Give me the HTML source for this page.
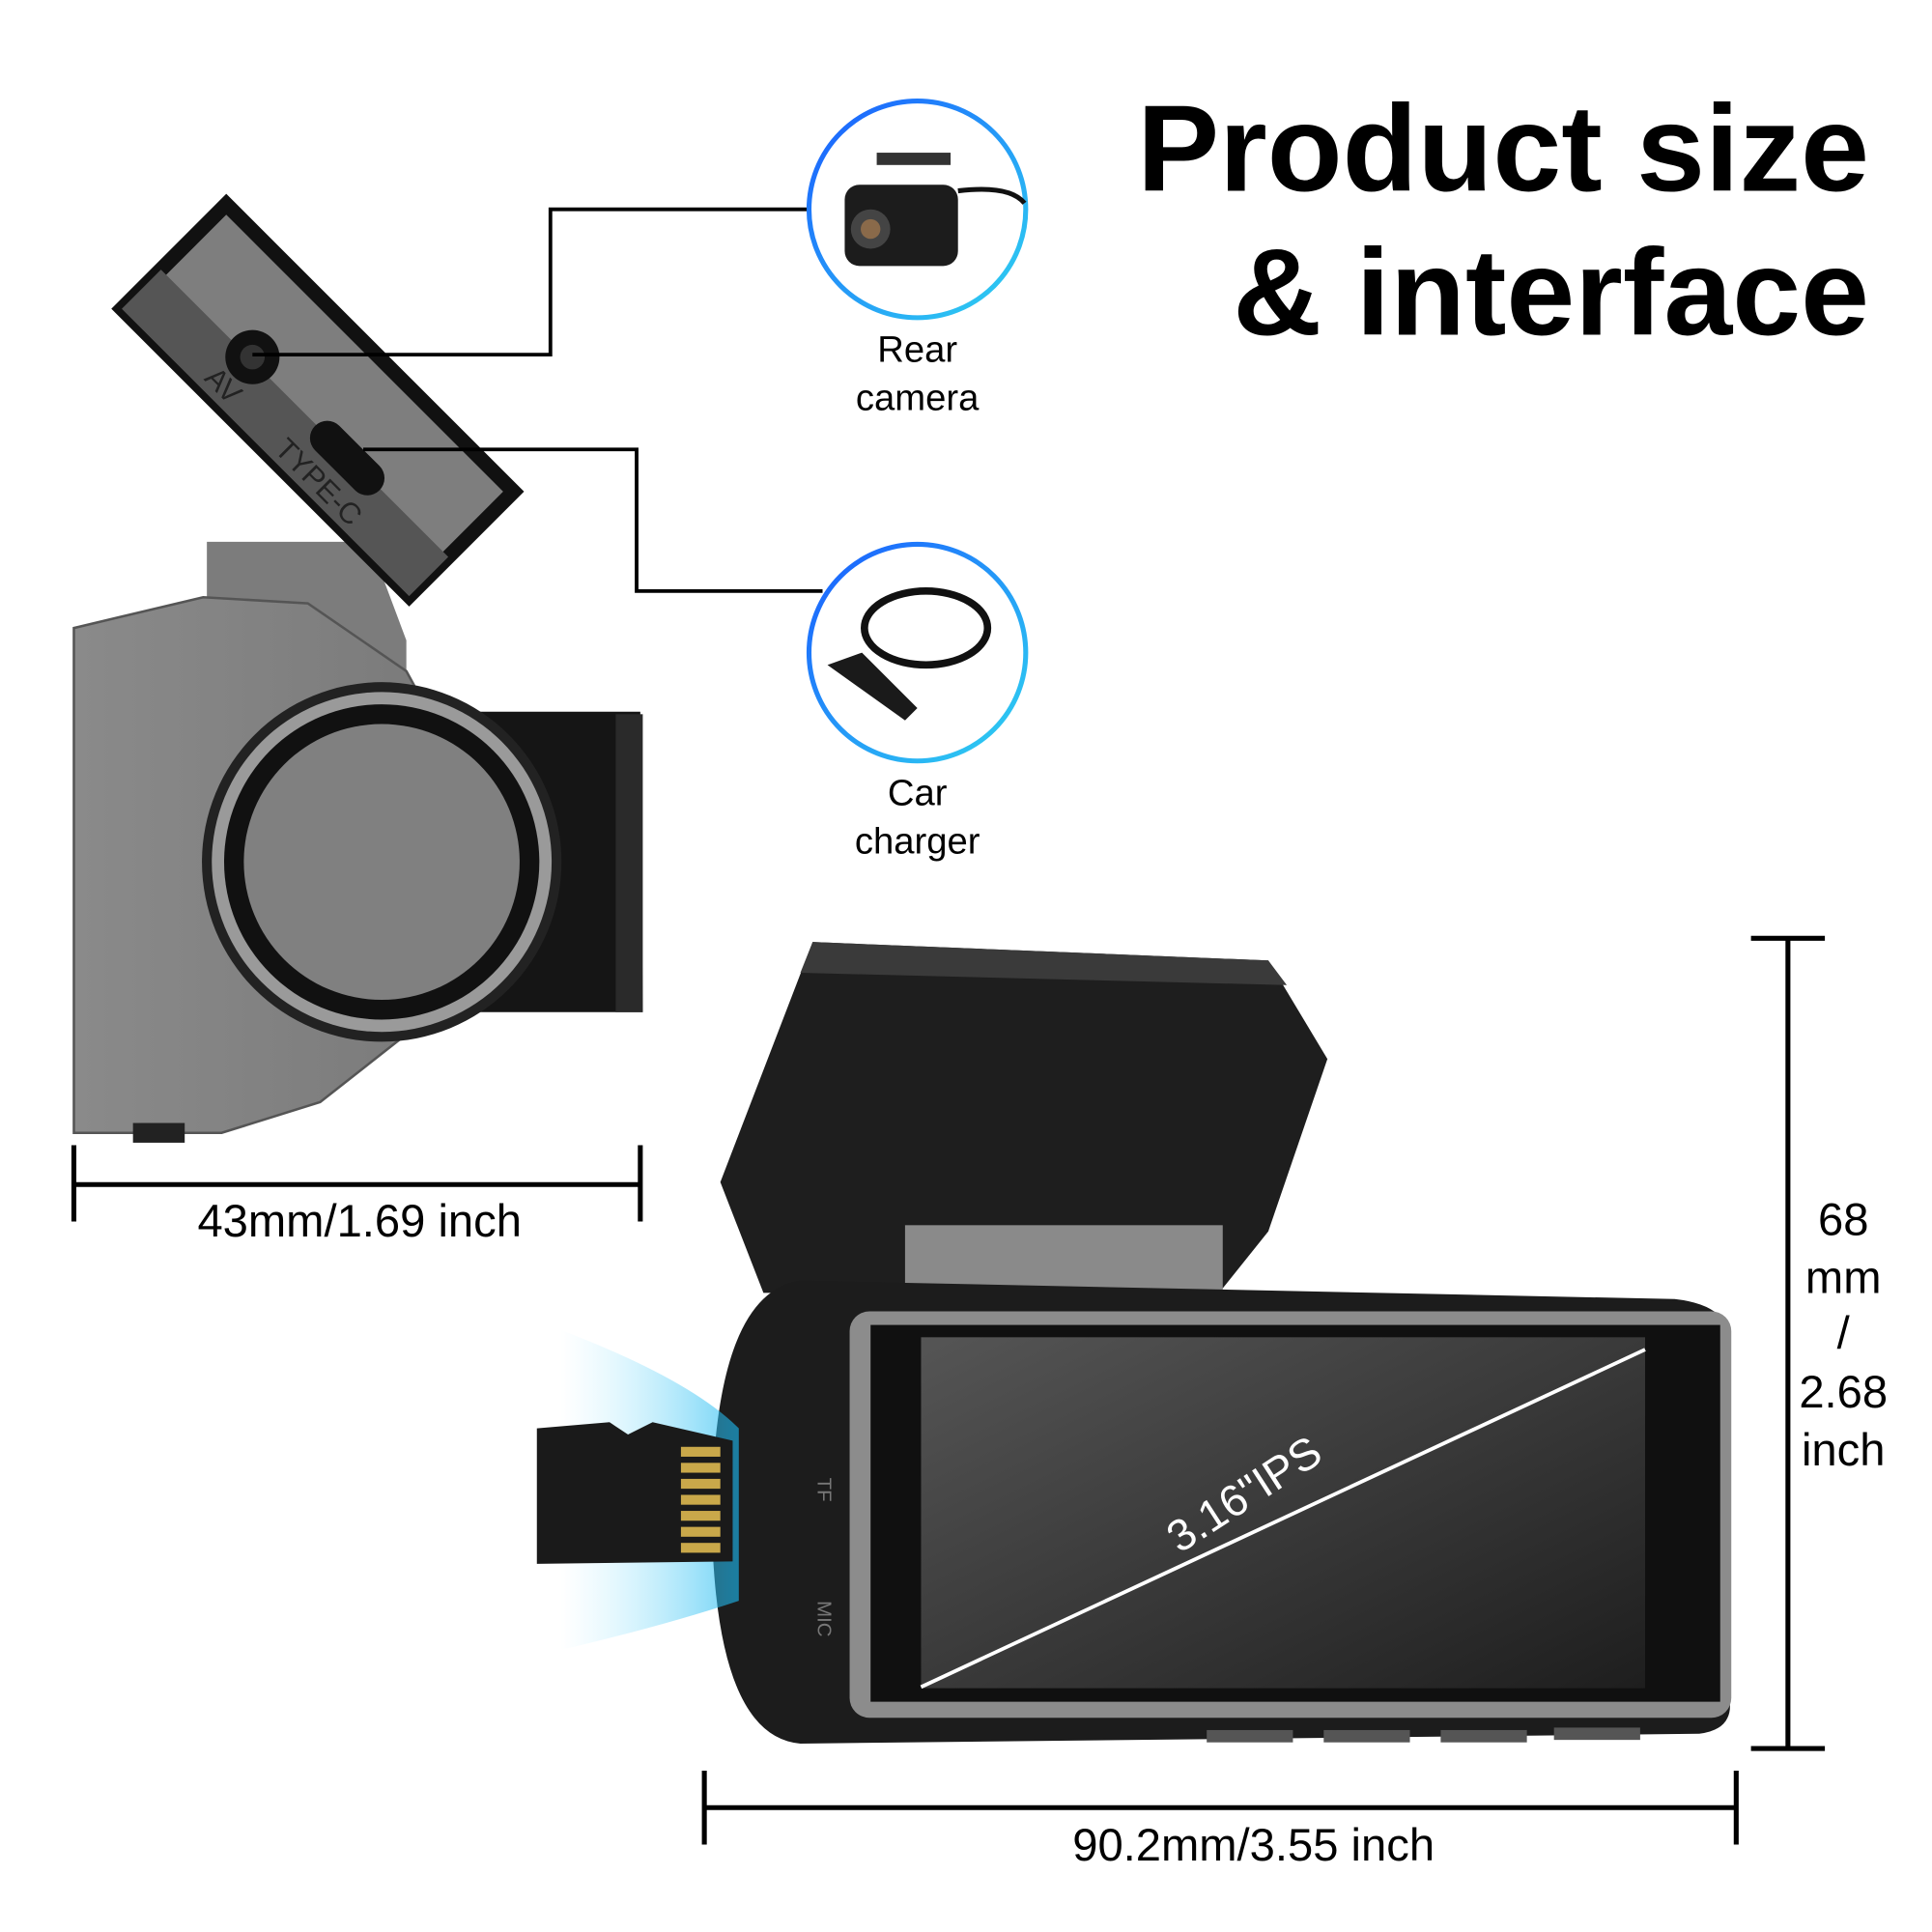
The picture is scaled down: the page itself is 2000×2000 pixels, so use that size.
<!DOCTYPE html>
<html><head><meta charset="utf-8"><style>
html,body{margin:0;padding:0;background:#fff;width:2000px;height:2000px;overflow:hidden}
svg{display:block}
text{font-family:"Liberation Sans","DejaVu Sans",sans-serif}
</style></head><body>
<svg width="2000" height="2000" viewBox="0 0 1569 1569" xmlns="http://www.w3.org/2000/svg">
<defs>
<linearGradient id="ring" x1="0" y1="0" x2="1" y2="1"><stop offset="0" stop-color="#1a5cff"/><stop offset="1" stop-color="#2fd4f0"/></linearGradient>
<linearGradient id="grey" x1="0" y1="0" x2="1" y2="0"><stop offset="0" stop-color="#8a8a8a"/><stop offset="1" stop-color="#7a7a7a"/></linearGradient>
<linearGradient id="scr" x1="0" y1="0" x2="1" y2="1"><stop offset="0" stop-color="#555"/><stop offset="1" stop-color="#1e1e1e"/></linearGradient>
<linearGradient id="blue" x1="0" y1="0" x2="1" y2="0"><stop offset="0" stop-color="#9be8ff" stop-opacity="0"/><stop offset="1" stop-color="#1ab8f0" stop-opacity="0.9"/></linearGradient>
</defs>
<rect width="1569" height="1569" fill="#fff"/>

<text x="1518" y="155" text-anchor="end" font-size="100" font-weight="bold" fill="#000">Product size</text>
<text x="1518" y="272" text-anchor="end" font-size="100" font-weight="bold" fill="#000">&amp; interface</text>

<path d="M168,440 L300,440 L330,520 L330,560 L168,560 Z" fill="#7c7c7c"/>
<path d="M60,510 L165,485 L250,490 L330,545 L360,600 L330,840 L260,895 L180,920 L60,920 Z" fill="url(#grey)" stroke="#555" stroke-width="2"/>
<rect x="108" y="912" width="42" height="16" fill="#222"/>
<path d="M330,578 L520,578 L522,822 L330,822 Z" fill="#151515"/>
<rect x="500" y="580" width="22" height="242" fill="#2a2a2a"/>
<circle cx="310" cy="700" r="146" fill="#222"/>
<circle cx="310" cy="700" r="138" fill="#9a9a9a"/>
<circle cx="310" cy="700" r="128" fill="#111"/>
<circle cx="310" cy="700" r="112" fill="#808080"/>
<g transform="rotate(45 258 325)">
<rect x="93" y="265" width="330" height="120" fill="#7e7e7e" stroke="#111" stroke-width="12"/>
<rect x="93" y="340" width="330" height="45" fill="#555"/>
</g>
<circle cx="205" cy="290" r="22" fill="#111"/><circle cx="205" cy="290" r="10" fill="#333"/>
<g transform="rotate(45 282 372)"><rect x="245" y="358" width="74" height="28" rx="14" fill="#111"/></g>
<text x="165" y="308" font-size="24" fill="#222" transform="rotate(45 165 308)">AV</text>
<text x="222" y="366" font-size="24" fill="#222" transform="rotate(45 222 366)">TYPE-C</text>

<polyline points="205,288 447,288 447,170 657,170" fill="none" stroke="#000" stroke-width="3"/>
<polyline points="295,365 517,365 517,480 668,480" fill="none" stroke="#000" stroke-width="3"/>

<circle cx="745" cy="170" r="88" fill="#fff" stroke="url(#ring)" stroke-width="4"/>
<rect x="712" y="124" width="60" height="10" fill="#333"/>
<rect x="686" y="150" width="92" height="66" rx="12" fill="#1c1c1c"/>
<circle cx="707" cy="186" r="16" fill="#444"/><circle cx="707" cy="186" r="8" fill="#8a6a4a"/>
<path d="M778,155 Q820,150 832,165" fill="none" stroke="#111" stroke-width="4"/>
<circle cx="745" cy="530" r="88" fill="#fff" stroke="url(#ring)" stroke-width="4"/>
<ellipse cx="752" cy="510" rx="50" ry="30" fill="none" stroke="#111" stroke-width="6"/>
<path d="M672,540 L700,530 L745,575 L735,585 Z" fill="#1a1a1a"/>
<text x="745" y="294" text-anchor="middle" font-size="30" fill="#000">Rear</text>
<text x="745" y="333" text-anchor="middle" font-size="30" fill="#000">camera</text>
<text x="745" y="654" text-anchor="middle" font-size="30" fill="#000">Car</text>
<text x="745" y="693" text-anchor="middle" font-size="30" fill="#000">charger</text>

<line x1="60" y1="962" x2="520" y2="962" stroke="#000" stroke-width="4"/>
<line x1="60" y1="930" x2="60" y2="992" stroke="#000" stroke-width="4"/>
<line x1="520" y1="930" x2="520" y2="992" stroke="#000" stroke-width="4"/>
<text x="292" y="1004" text-anchor="middle" font-size="37" fill="#000">43mm/1.69 inch</text>

<path d="M660,765 L1030,780 L1078,860 L1030,1000 L990,1050 L620,1050 L585,960 Z" fill="#1e1e1e"/>
<path d="M660,765 L1030,780 L1045,800 L650,790 Z" fill="#3a3a3a"/>
<rect x="735" y="995" width="258" height="58" fill="#8a8a8a"/>
<path d="M650,1040 L1360,1055 Q1405,1060 1405,1090 L1405,1385 Q1405,1405 1380,1408 L650,1416 Q580,1410 578,1230 Q580,1050 650,1040 Z" fill="#1c1c1c"/>
<rect x="690" y="1065" width="716" height="330" rx="16" fill="#8c8c8c"/>
<rect x="707" y="1076" width="690" height="306" fill="#101010"/>
<rect x="748" y="1086" width="588" height="285" fill="url(#scr)"/>
<line x1="748" y1="1370" x2="1336" y2="1096" stroke="#fff" stroke-width="3"/>
<text x="0" y="0" font-size="36" fill="#fff" transform="translate(958 1262) rotate(-33)">3.16"IPS</text>
<rect x="980" y="1405" width="70" height="10" fill="#555"/><rect x="1075" y="1405" width="70" height="10" fill="#555"/><rect x="1170" y="1405" width="70" height="10" fill="#555"/><rect x="1262" y="1403" width="70" height="10" fill="#555"/>
<path d="M455,1080 Q560,1120 600,1160 L600,1300 Q540,1320 455,1340 Z" fill="url(#blue)" opacity="0.7"/>
<path d="M436,1160 L495,1155 L510,1165 L530,1155 L595,1170 L595,1268 L436,1270 Z" fill="#1a1a1a"/>
<g fill="#c9a84a"><rect x="553" y="1175" width="32" height="8"/><rect x="553" y="1188" width="32" height="8"/><rect x="553" y="1201" width="32" height="8"/><rect x="553" y="1214" width="32" height="8"/><rect x="553" y="1227" width="32" height="8"/><rect x="553" y="1240" width="32" height="8"/><rect x="553" y="1253" width="32" height="8"/></g>
<text x="0" y="0" font-size="16" fill="#777" transform="translate(664 1200) rotate(90)">TF</text>
<text x="0" y="0" font-size="16" fill="#777" transform="translate(664 1300) rotate(90)">MIC</text>

<line x1="572" y1="1468" x2="1410" y2="1468" stroke="#000" stroke-width="4"/>
<line x1="572" y1="1438" x2="572" y2="1498" stroke="#000" stroke-width="4"/>
<line x1="1410" y1="1438" x2="1410" y2="1498" stroke="#000" stroke-width="4"/>
<text x="1018" y="1511" text-anchor="middle" font-size="37" fill="#000">90.2mm/3.55 inch</text>

<line x1="1452" y1="762" x2="1452" y2="1420" stroke="#000" stroke-width="4"/>
<line x1="1422" y1="762" x2="1482" y2="762" stroke="#000" stroke-width="4"/>
<line x1="1422" y1="1420" x2="1482" y2="1420" stroke="#000" stroke-width="4"/>
<g font-size="37" text-anchor="middle" fill="#000">
<text x="1497" y="1003">68</text><text x="1497" y="1050">mm</text><text x="1497" y="1095">/</text><text x="1497" y="1143">2.68</text><text x="1497" y="1190">inch</text>
</g>
</svg>
</body></html>
